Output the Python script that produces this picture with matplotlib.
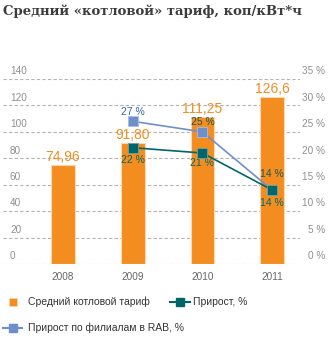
import numpy as np
import matplotlib.pyplot as plt
from matplotlib.lines import Line2D

years = ['2008', '2009', '2010', '2011']
tariff = [74.96, 91.80, 111.25, 126.6]
tariff_labels = ['74,96', '91,80', '111,25', '126,6']
growth = [np.nan, 22, 21, 14]
growth_rab = [np.nan, 27, 25, 14]
left_ticks = [0, 20, 40, 60, 80, 100, 120, 140]
right_ticks = [0, 5, 10, 15, 20, 25, 30, 35]

orange = '#f38d1f'
teal = '#00666a'
blue = '#6f8fcc'
grey = '#909090'
W, H = 331, 346

plt.rcParams['font.family'] = ['Liberation Sans', 'DejaVu Sans']
fig = plt.figure(figsize=(W / 100, H / 100), dpi=100)
ax = fig.add_axes([3 / W, 1 - 264 / H, 297 / W, 185 / H])
ax.set_xlim(-0.86, 3.40)
ax.set_ylim(0, 140)
ax.axis('off')

x = np.arange(len(years))
for t in left_ticks:
    ax.axhline(t, color='#b4b4b4', lw=0.8, ls=(0, (3, 2)), zorder=0)
    ax.annotate(str(t), (0, t), xycoords=('axes fraction', 'data'),
                xytext=(5, 2), textcoords='offset points',
                ha='left', va='bottom', fontsize=7.2, color=grey)
for p in right_ticks:
    ax.annotate('%d %%' % p, (1, p * 4), xycoords=('axes fraction', 'data'),
                xytext=(18, 2), textcoords='offset points',
                ha='right', va='bottom', fontsize=7.2, color=grey)

ax.bar(x, tariff, width=0.34, color=orange, edgecolor='#fcd9ad', lw=0.8, zorder=2)
for xi, v, lab in zip(x, tariff, tariff_labels):
    ax.annotate(lab, (xi, v), xytext=(0, 0.5), textcoords='offset points',
                ha='center', va='bottom', fontsize=10, color=orange)
for xi, y in zip(x, years):
    ax.annotate(y, (xi, 0), xytext=(0, -9), textcoords='offset points',
                ha='center', va='center', fontsize=7.2, color='#666666',
                annotation_clip=False)

g = np.array(growth_rab) * 4
ax.plot(x, g, color=blue, lw=1.2, marker='s', ms=6.5, mec='#a9bde3', mew=0.6, zorder=3)
t = np.array(growth) * 4
ax.plot(x, t, color=teal, lw=1.2, marker='s', ms=6.5, mec='#6aa4a4', mew=0.6, zorder=4)

dark = '#1c5a50'
ax.annotate('27 %', (1, g[1]), xytext=(0, 7), textcoords='offset points',
            ha='center', va='center', fontsize=7.5, color='#2f68a8')
ax.annotate('22 %', (1, t[1]), xytext=(0, -9), textcoords='offset points',
            ha='center', va='center', fontsize=7.5, color=teal)
ax.annotate('25 %', (2, g[2]), xytext=(0, 7), textcoords='offset points',
            ha='center', va='center', fontsize=7.5, color=dark)
ax.annotate('21 %', (2, t[2]), xytext=(0, -7.5), textcoords='offset points',
            ha='center', va='center', fontsize=7.5, color=teal)
ax.annotate('14 %', (3, t[3]), xytext=(0, 11.5), textcoords='offset points',
            ha='center', va='center', fontsize=7.5, color=dark)
ax.annotate('14 %', (3, t[3]), xytext=(0, -9.5), textcoords='offset points',
            ha='center', va='center', fontsize=7.5, color=teal)

fig.text(3 / W, 1 - 11 / H, 'Средний «котловой» тариф, коп/кВт*ч',
         fontsize=9.5, fontweight='bold', family='DejaVu Serif',
         color='#3c3c3c', ha='left', va='center')

# legend
def fx(px):
    return px / W

def fy(py):
    return 1 - py / H

fig.add_artist(Line2D([fx(12.5)], [fy(302)], marker='s', ms=6, color=orange,
                      mec='#fcd9ad', mew=0.5, ls='none', transform=fig.transFigure))
fig.text(fx(28), fy(302), 'Средний котловой тариф', fontsize=7.5, color='#333333',
         va='center', ha='left')
fig.add_artist(Line2D([fx(170), fx(190)], [fy(302)] * 2, color=teal, lw=1.5,
                      transform=fig.transFigure))
fig.add_artist(Line2D([fx(180)], [fy(302)], marker='s', ms=6, color=teal,
                      ls='none', transform=fig.transFigure))
fig.text(fx(193), fy(302), 'Прирост, %', fontsize=7.5, color='#333333',
         va='center', ha='left')
fig.add_artist(Line2D([fx(3), fx(22)], [fy(328)] * 2, color=blue, lw=1.5,
                      transform=fig.transFigure))
fig.add_artist(Line2D([fx(12.5)], [fy(328)], marker='s', ms=6, color=blue,
                      ls='none', transform=fig.transFigure))
fig.text(fx(28), fy(328), 'Прирост по филиалам в RAB, %', fontsize=7.5, color='#333333',
         va='center', ha='left')

fig.savefig('out.png', dpi=100)
